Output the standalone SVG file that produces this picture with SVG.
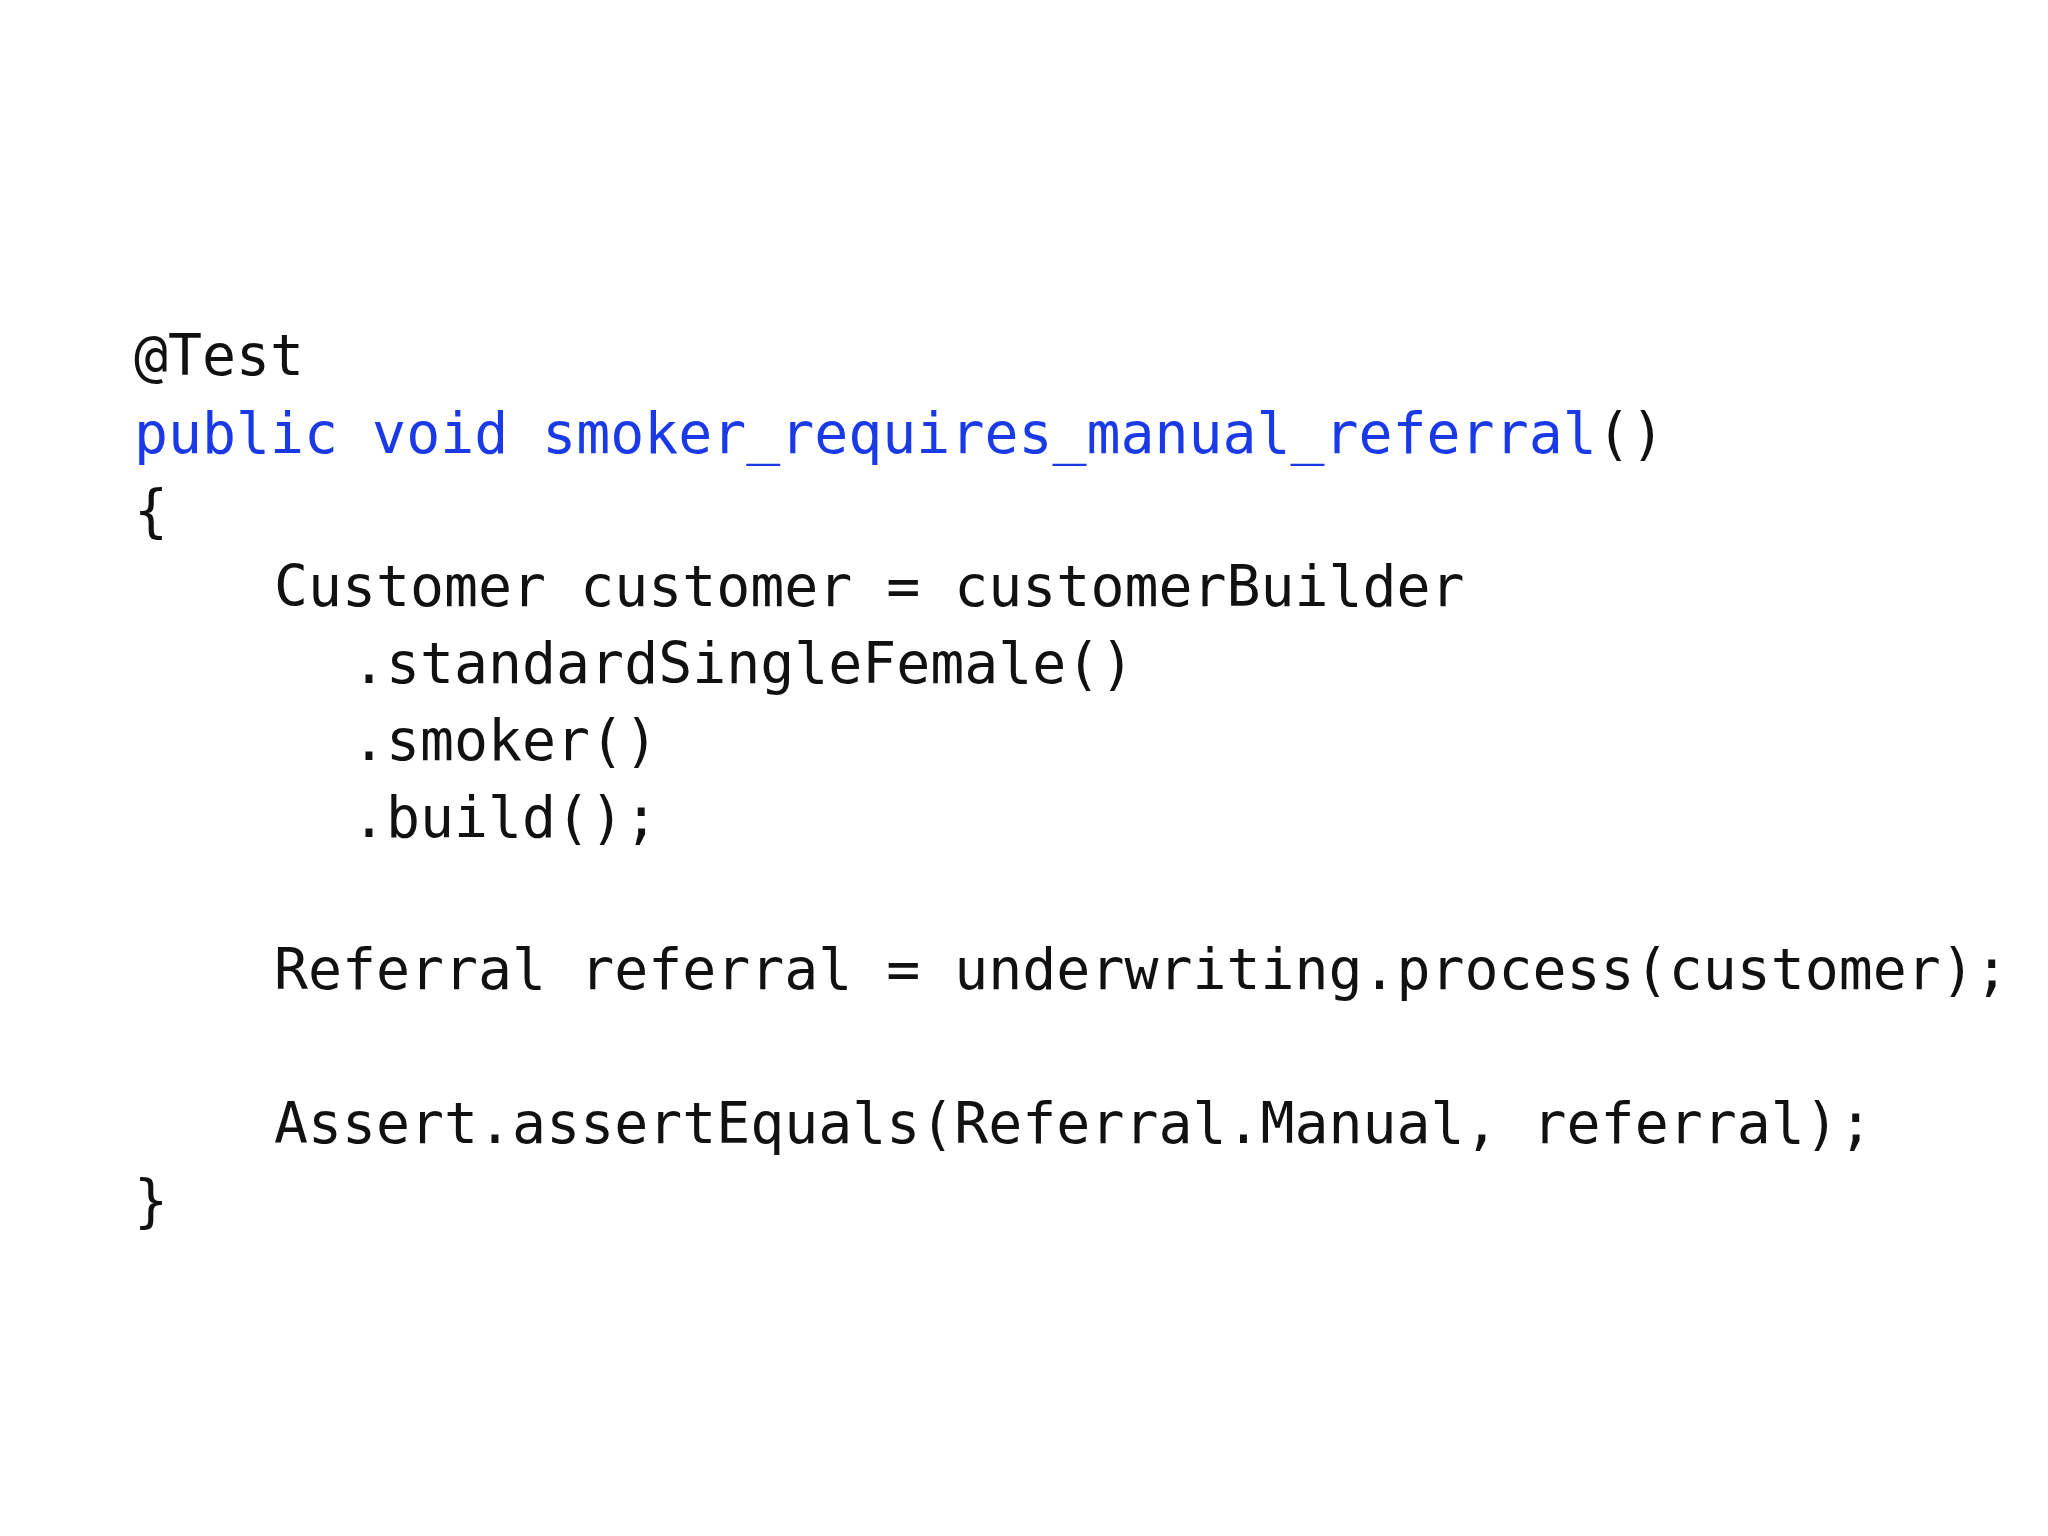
<svg xmlns="http://www.w3.org/2000/svg" width="2048" height="1536" viewBox="0 0 2048 1536">
<style>
text{font-family:"DejaVu Sans Mono","Liberation Mono",monospace;font-size:56.5px;fill:#111}
.k{fill:#1a3ae8}
</style>
<rect width="2048" height="1536" fill="#fff"/>
<g id="code">
<text x="134" y="375">@Test</text>
<text x="134" y="453"><tspan class="k">public void smoker_requires_manual_referral</tspan>()</text>
<text x="134" y="530">{</text>
<text x="274" y="606">Customer customer = customerBuilder</text>
<text x="352" y="683">.standardSingleFemale()</text>
<text x="352" y="760">.smoker()</text>
<text x="352" y="837">.build();</text>
<text x="274" y="989">Referral referral = underwriting.process(customer);</text>
<text x="274" y="1143">Assert.assertEquals(Referral.Manual, referral);</text>
<text x="134" y="1220">}</text>
</g>
</svg>
